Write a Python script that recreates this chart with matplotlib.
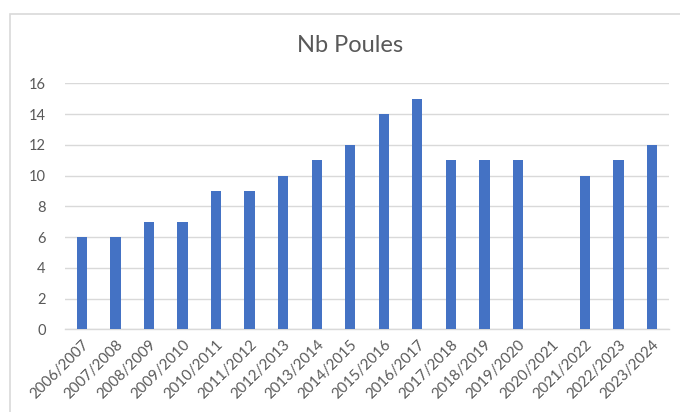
import numpy as np
import matplotlib
matplotlib.use('Agg')
import matplotlib.pyplot as plt
from matplotlib.patches import Rectangle

# %% data
seasons = ["2006/2007", "2007/2008", "2008/2009", "2009/2010", "2010/2011",
           "2011/2012", "2012/2013", "2013/2014", "2014/2015", "2015/2016",
           "2016/2017", "2017/2018", "2018/2019", "2019/2020", "2020/2021",
           "2021/2022", "2022/2023", "2023/2024"]
nb_poules = [6, 6, 7, 7, 9, 9, 10, 11, 12, 14, 15, 11, 11, 11, np.nan, 10, 11, 12]
yticks = [0, 2, 4, 6, 8, 10, 12, 14, 16]

# %% style
plt.rcParams['font.family'] = ['Lato', 'DejaVu Sans']
BLUE = '#4472C4'
GRID = '#D9D9D9'
TXT = '#595959'

fig = plt.figure(figsize=(6.8, 4.12), dpi=100)
ax = fig.add_axes([0.0959, 0.2007, 0.8876, 0.5971])

# chart area border (Excel style)
fig.patches.append(Rectangle((10/680, -0.1), 1.2, 0.1 + (1 - 14/412),
                             transform=fig.transFigure, fill=False,
                             edgecolor=GRID, lw=1.2))

x = np.arange(len(seasons))
ax.bar(x, nb_poules, width=0.31, color=BLUE, zorder=3)

ax.set_xlim(-0.5, len(seasons) - 0.5)
ax.set_ylim(0, 16)
ax.set_yticks(yticks)
ax.set_xticks(x)
ax.set_xticklabels(seasons, rotation=45, ha='right', rotation_mode='anchor',
                   fontsize=10.8, color=TXT)
ax.tick_params(axis='y', labelsize=10.5, labelcolor=TXT, length=0, pad=14)
ax.tick_params(axis='x', length=0, pad=6)

ax.grid(axis='y', color=GRID, lw=1, zorder=0)
for s in ['top', 'right', 'left']:
    ax.spines[s].set_visible(False)
ax.spines['bottom'].set_color(GRID)
ax.spines['bottom'].set_linewidth(1)

fig.text(350/680, 1 - 46/412, "Nb Poules", ha='center', va='center',
         fontsize=17, color=TXT)

fig.savefig('out.png', dpi=100)
